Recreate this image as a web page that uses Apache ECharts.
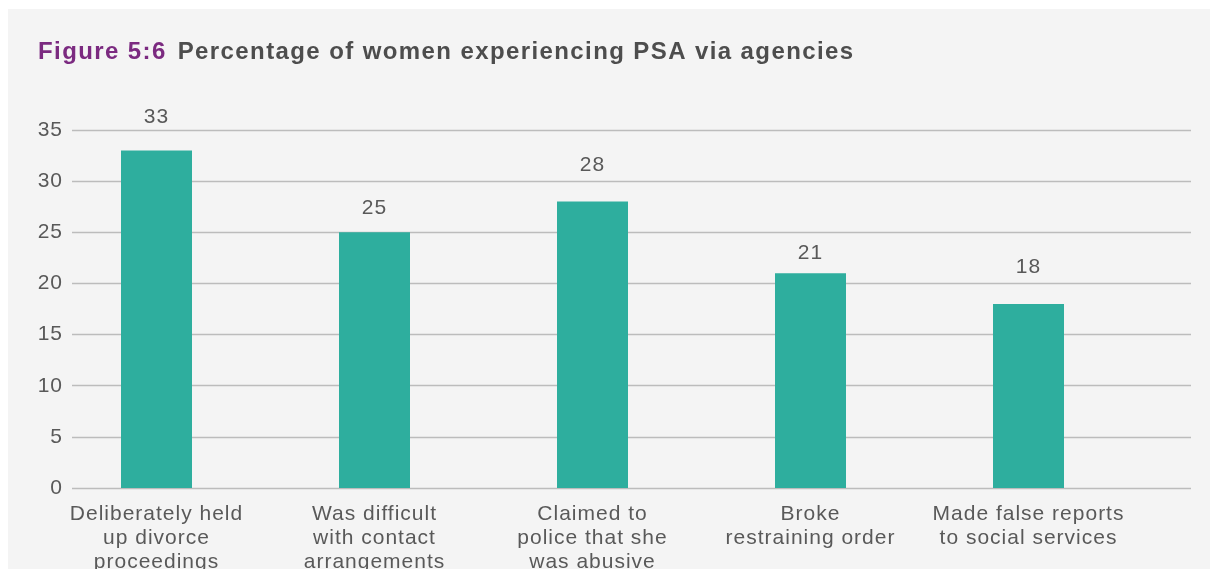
<!DOCTYPE html>
<html><head><meta charset="utf-8">
<script src="https://cdn.jsdelivr.net/npm/echarts@6/dist/echarts.min.js"></script>
<style>
html,body{margin:0;padding:0;background:#fff;}
#bg{position:absolute;left:8px;top:9px;width:1202px;height:560px;background:#f4f4f4;}
#chart{position:absolute;left:0;top:0;width:1213px;height:569px;}
</style></head>
<body><div id="bg"></div><div id="chart"></div>
<script>
const categories = ["Deliberately held\nup divorce\nproceedings", "Was difficult\nwith contact\narrangements", "Claimed to\npolice that she\nwas abusive", "Broke\nrestraining order", "Made false reports\nto social services"];
const values = [33, 25, 28, 21, 18];
const yTicks = [0, 5, 10, 15, 20, 25, 30, 35];
// per-bar gap (px) between bar top and its value label, as placed in the reference
const labelGaps = [22.5, 13, 25.5, 8.5, 26];

// widen text spacing to match the reference typography
(function () {
  const p = CanvasRenderingContext2D.prototype;
  if (!('letterSpacing' in p)) return;
  const f = p.fillText, m = p.measureText;
  const ls = ctx => (/bold/.test(ctx.font) ? '1.4px' : '1px');
  p.fillText = function () { this.letterSpacing = ls(this); return f.apply(this, arguments); };
  p.measureText = function () { this.letterSpacing = ls(this); return m.apply(this, arguments); };
})();

const chart = echarts.init(document.getElementById('chart'), null, {renderer: 'canvas'});
const font = '"Liberation Sans", Arial, sans-serif';
chart.setOption({
  backgroundColor: 'transparent',
  animation: false,
  title: {
    text: '{a|Figure 5:6}{b|Percentage of women experiencing PSA via agencies}',
    left: 33, top: 35,
    textStyle: {
      rich: {
        a: {fontFamily: font, fontSize: 24, fontWeight: 'bold', color: '#7b2a80'},
        b: {fontFamily: font, fontSize: 24, fontWeight: 'bold', color: '#4d4d4d', padding: [0, 0, 0, 11]}
      }
    }
  },
  grid: [
    {left: 72, right: 22, top: 130, bottom: 81, outerBoundsMode: 'none'},
    {left: 47.5, width: 1090, top: 130, bottom: 81, outerBoundsMode: 'none'}
  ],
  xAxis: [
    {gridIndex: 0, type: 'category', data: categories, show: false},
    {gridIndex: 1, type: 'category', data: categories,
     axisLine: {show: false}, axisTick: {show: false},
     axisLabel: {interval: 0, margin: 14, fontFamily: font, fontSize: 21, lineHeight: 24, color: '#595959'}}
  ],
  yAxis: [
    {gridIndex: 0, type: 'value', min: 0, max: 35, interval: 5,
     axisLine: {show: false}, axisTick: {show: false},
     axisLabel: {margin: 9, fontFamily: font, fontSize: 21, color: '#595959',
       formatter: v => yTicks.includes(v) ? String(v) : ''},
     splitLine: {lineStyle: {color: '#bcbcbc', width: 1.3}}},
    {gridIndex: 1, type: 'value', min: 0, max: 35, interval: 5, show: false, splitLine: {show: false}}
  ],
  series: [{
    type: 'bar', xAxisIndex: 1, yAxisIndex: 1, barWidth: 71,
    data: values.map((v, i) => ({value: v, label: {distance: labelGaps[i]}})),
    itemStyle: {color: '#2eae9e'},
    label: {show: true, position: 'top', fontFamily: font, fontSize: 21, lineHeight: 22, color: '#595959'}
  }]
});
</script></body></html>
